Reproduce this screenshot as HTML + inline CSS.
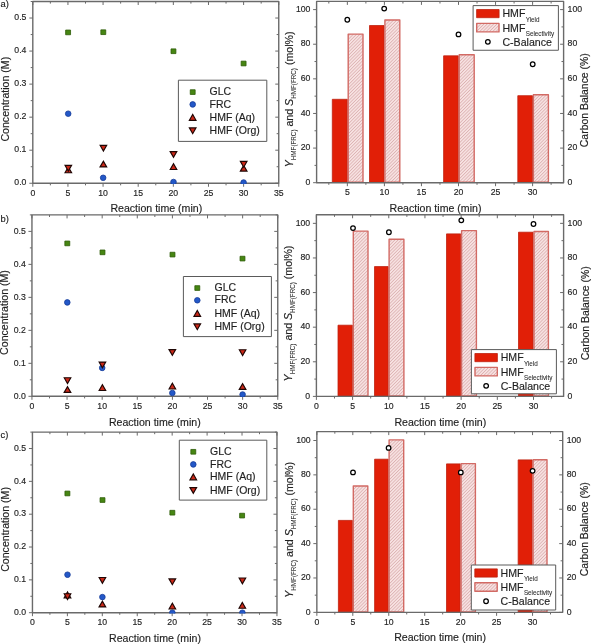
<!DOCTYPE html><html><head><meta charset="utf-8"><style>html,body{margin:0;padding:0;background:#fff;}svg{display:block;filter:blur(0.35px);}</style></head><body>
<svg width="591" height="644" viewBox="0 0 591 644" font-family="'Liberation Sans', sans-serif" stroke-linejoin="round">
<style>text{stroke:#1f1f1f;stroke-width:0.16px;paint-order:stroke;}</style>
<defs><pattern id="hatch" patternUnits="userSpaceOnUse" width="2.3" height="2.3" patternTransform="rotate(45)"><rect width="2.3" height="2.3" fill="#f8e2e2"/><rect width="0.8" height="2.3" fill="#dcb2b2"/></pattern></defs>
<rect width="591" height="644" fill="#fff"/>
<clipPath id="clipL0"><rect x="31.8" y="0.5" width="247.95" height="183.45"/></clipPath>
<line x1="32.8" y1="183.25" x2="32.8" y2="186.75" stroke="#6a6a6a" stroke-width="1.0"/>
<line x1="32.8" y1="1.5" x2="32.8" y2="5" stroke="#6a6a6a" stroke-width="1.0"/>
<text x="32.8" y="195.85" font-size="8.7" text-anchor="middle" fill="#1f1f1f" >0</text>
<line x1="50.37" y1="183.25" x2="50.37" y2="185.35" stroke="#6a6a6a" stroke-width="1.0"/>
<line x1="50.37" y1="1.5" x2="50.37" y2="3.6" stroke="#6a6a6a" stroke-width="1.0"/>
<line x1="67.94" y1="183.25" x2="67.94" y2="186.75" stroke="#6a6a6a" stroke-width="1.0"/>
<line x1="67.94" y1="1.5" x2="67.94" y2="5" stroke="#6a6a6a" stroke-width="1.0"/>
<text x="67.94" y="195.85" font-size="8.7" text-anchor="middle" fill="#1f1f1f" >5</text>
<line x1="85.5" y1="183.25" x2="85.5" y2="185.35" stroke="#6a6a6a" stroke-width="1.0"/>
<line x1="85.5" y1="1.5" x2="85.5" y2="3.6" stroke="#6a6a6a" stroke-width="1.0"/>
<line x1="103.07" y1="183.25" x2="103.07" y2="186.75" stroke="#6a6a6a" stroke-width="1.0"/>
<line x1="103.07" y1="1.5" x2="103.07" y2="5" stroke="#6a6a6a" stroke-width="1.0"/>
<text x="103.07" y="195.85" font-size="8.7" text-anchor="middle" fill="#1f1f1f" >10</text>
<line x1="120.64" y1="183.25" x2="120.64" y2="185.35" stroke="#6a6a6a" stroke-width="1.0"/>
<line x1="120.64" y1="1.5" x2="120.64" y2="3.6" stroke="#6a6a6a" stroke-width="1.0"/>
<line x1="138.2" y1="183.25" x2="138.2" y2="186.75" stroke="#6a6a6a" stroke-width="1.0"/>
<line x1="138.2" y1="1.5" x2="138.2" y2="5" stroke="#6a6a6a" stroke-width="1.0"/>
<text x="138.2" y="195.85" font-size="8.7" text-anchor="middle" fill="#1f1f1f" >15</text>
<line x1="155.77" y1="183.25" x2="155.77" y2="185.35" stroke="#6a6a6a" stroke-width="1.0"/>
<line x1="155.77" y1="1.5" x2="155.77" y2="3.6" stroke="#6a6a6a" stroke-width="1.0"/>
<line x1="173.34" y1="183.25" x2="173.34" y2="186.75" stroke="#6a6a6a" stroke-width="1.0"/>
<line x1="173.34" y1="1.5" x2="173.34" y2="5" stroke="#6a6a6a" stroke-width="1.0"/>
<text x="173.34" y="195.85" font-size="8.7" text-anchor="middle" fill="#1f1f1f" >20</text>
<line x1="190.91" y1="183.25" x2="190.91" y2="185.35" stroke="#6a6a6a" stroke-width="1.0"/>
<line x1="190.91" y1="1.5" x2="190.91" y2="3.6" stroke="#6a6a6a" stroke-width="1.0"/>
<line x1="208.48" y1="183.25" x2="208.48" y2="186.75" stroke="#6a6a6a" stroke-width="1.0"/>
<line x1="208.48" y1="1.5" x2="208.48" y2="5" stroke="#6a6a6a" stroke-width="1.0"/>
<text x="208.48" y="195.85" font-size="8.7" text-anchor="middle" fill="#1f1f1f" >25</text>
<line x1="226.04" y1="183.25" x2="226.04" y2="185.35" stroke="#6a6a6a" stroke-width="1.0"/>
<line x1="226.04" y1="1.5" x2="226.04" y2="3.6" stroke="#6a6a6a" stroke-width="1.0"/>
<line x1="243.61" y1="183.25" x2="243.61" y2="186.75" stroke="#6a6a6a" stroke-width="1.0"/>
<line x1="243.61" y1="1.5" x2="243.61" y2="5" stroke="#6a6a6a" stroke-width="1.0"/>
<text x="243.61" y="195.85" font-size="8.7" text-anchor="middle" fill="#1f1f1f" >30</text>
<line x1="261.18" y1="183.25" x2="261.18" y2="185.35" stroke="#6a6a6a" stroke-width="1.0"/>
<line x1="261.18" y1="1.5" x2="261.18" y2="3.6" stroke="#6a6a6a" stroke-width="1.0"/>
<line x1="278.75" y1="183.25" x2="278.75" y2="186.75" stroke="#6a6a6a" stroke-width="1.0"/>
<line x1="278.75" y1="1.5" x2="278.75" y2="5" stroke="#6a6a6a" stroke-width="1.0"/>
<text x="278.75" y="195.85" font-size="8.7" text-anchor="middle" fill="#1f1f1f" >35</text>
<line x1="29.3" y1="183.25" x2="32.8" y2="183.25" stroke="#6a6a6a" stroke-width="1.0"/>
<line x1="275.25" y1="183.25" x2="278.75" y2="183.25" stroke="#6a6a6a" stroke-width="1.0"/>
<text x="26.4" y="185.45" font-size="8.7" text-anchor="end" fill="#1f1f1f" >0.0</text>
<line x1="30.7" y1="166.73" x2="32.8" y2="166.73" stroke="#6a6a6a" stroke-width="1.0"/>
<line x1="276.65" y1="166.73" x2="278.75" y2="166.73" stroke="#6a6a6a" stroke-width="1.0"/>
<line x1="29.3" y1="150.2" x2="32.8" y2="150.2" stroke="#6a6a6a" stroke-width="1.0"/>
<line x1="275.25" y1="150.2" x2="278.75" y2="150.2" stroke="#6a6a6a" stroke-width="1.0"/>
<text x="26.4" y="152.4" font-size="8.7" text-anchor="end" fill="#1f1f1f" >0.1</text>
<line x1="30.7" y1="133.68" x2="32.8" y2="133.68" stroke="#6a6a6a" stroke-width="1.0"/>
<line x1="276.65" y1="133.68" x2="278.75" y2="133.68" stroke="#6a6a6a" stroke-width="1.0"/>
<line x1="29.3" y1="117.16" x2="32.8" y2="117.16" stroke="#6a6a6a" stroke-width="1.0"/>
<line x1="275.25" y1="117.16" x2="278.75" y2="117.16" stroke="#6a6a6a" stroke-width="1.0"/>
<text x="26.4" y="119.36" font-size="8.7" text-anchor="end" fill="#1f1f1f" >0.2</text>
<line x1="30.7" y1="100.64" x2="32.8" y2="100.64" stroke="#6a6a6a" stroke-width="1.0"/>
<line x1="276.65" y1="100.64" x2="278.75" y2="100.64" stroke="#6a6a6a" stroke-width="1.0"/>
<line x1="29.3" y1="84.11" x2="32.8" y2="84.11" stroke="#6a6a6a" stroke-width="1.0"/>
<line x1="275.25" y1="84.11" x2="278.75" y2="84.11" stroke="#6a6a6a" stroke-width="1.0"/>
<text x="26.4" y="86.31" font-size="8.7" text-anchor="end" fill="#1f1f1f" >0.3</text>
<line x1="30.7" y1="67.59" x2="32.8" y2="67.59" stroke="#6a6a6a" stroke-width="1.0"/>
<line x1="276.65" y1="67.59" x2="278.75" y2="67.59" stroke="#6a6a6a" stroke-width="1.0"/>
<line x1="29.3" y1="51.07" x2="32.8" y2="51.07" stroke="#6a6a6a" stroke-width="1.0"/>
<line x1="275.25" y1="51.07" x2="278.75" y2="51.07" stroke="#6a6a6a" stroke-width="1.0"/>
<text x="26.4" y="53.27" font-size="8.7" text-anchor="end" fill="#1f1f1f" >0.4</text>
<line x1="30.7" y1="34.55" x2="32.8" y2="34.55" stroke="#6a6a6a" stroke-width="1.0"/>
<line x1="276.65" y1="34.55" x2="278.75" y2="34.55" stroke="#6a6a6a" stroke-width="1.0"/>
<line x1="29.3" y1="18.02" x2="32.8" y2="18.02" stroke="#6a6a6a" stroke-width="1.0"/>
<line x1="275.25" y1="18.02" x2="278.75" y2="18.02" stroke="#6a6a6a" stroke-width="1.0"/>
<text x="26.4" y="20.22" font-size="8.7" text-anchor="end" fill="#1f1f1f" >0.5</text>
<line x1="30.7" y1="1.5" x2="32.8" y2="1.5" stroke="#6a6a6a" stroke-width="1.0"/>
<line x1="276.65" y1="1.5" x2="278.75" y2="1.5" stroke="#6a6a6a" stroke-width="1.0"/>
<rect x="32.8" y="1.5" width="245.95" height="181.75" fill="none" stroke="#6a6a6a" stroke-width="1.4"/>
<g clip-path="url(#clipL0)">
<rect x="65.65" y="30.05" width="4.9" height="4.7" fill="#468612" stroke="#2d5c08" stroke-width="0.8"/>
<rect x="100.85" y="29.85" width="4.9" height="4.7" fill="#468612" stroke="#2d5c08" stroke-width="0.8"/>
<rect x="171" y="48.9" width="4.9" height="4.7" fill="#468612" stroke="#2d5c08" stroke-width="0.8"/>
<rect x="241.15" y="61.15" width="4.9" height="4.7" fill="#468612" stroke="#2d5c08" stroke-width="0.8"/>
<circle cx="68.2" cy="113.7" r="2.8" fill="#2358c8" stroke="#183c98" stroke-width="0.8"/>
<circle cx="103.15" cy="177.8" r="2.8" fill="#2358c8" stroke="#183c98" stroke-width="0.8"/>
<circle cx="173.5" cy="182" r="2.8" fill="#2358c8" stroke="#183c98" stroke-width="0.8"/>
<circle cx="243.6" cy="182.5" r="2.8" fill="#2358c8" stroke="#183c98" stroke-width="0.8"/>
<path d="M65,172.7 L68.3,166.9 L71.6,172.7 Z" fill="#cc2818" stroke="#1e0604" stroke-width="1.15" stroke-linejoin="miter"/>
<path d="M100.1,166.9 L103.4,161.1 L106.7,166.9 Z" fill="#cc2818" stroke="#1e0604" stroke-width="1.15" stroke-linejoin="miter"/>
<path d="M170.2,169.5 L173.5,163.7 L176.8,169.5 Z" fill="#cc2818" stroke="#1e0604" stroke-width="1.15" stroke-linejoin="miter"/>
<path d="M240.4,171.1 L243.7,165.3 L247,171.1 Z" fill="#cc2818" stroke="#1e0604" stroke-width="1.15" stroke-linejoin="miter"/>
<path d="M65,165.3 L68.3,171.1 L71.6,165.3 Z" fill="#cc2818" stroke="#1e0604" stroke-width="1.15" stroke-linejoin="miter"/>
<path d="M100.1,145.3 L103.4,151.1 L106.7,145.3 Z" fill="#cc2818" stroke="#1e0604" stroke-width="1.15" stroke-linejoin="miter"/>
<path d="M170.2,151.6 L173.5,157.4 L176.8,151.6 Z" fill="#cc2818" stroke="#1e0604" stroke-width="1.15" stroke-linejoin="miter"/>
<path d="M240.4,161.4 L243.7,167.2 L247,161.4 Z" fill="#cc2818" stroke="#1e0604" stroke-width="1.15" stroke-linejoin="miter"/>
</g>
<rect x="178.4" y="80.2" width="88.4" height="61.2" fill="#fff" stroke="#5a5a5a" stroke-width="1"/>
<rect x="190.25" y="89.75" width="4.9" height="4.7" fill="#468612" stroke="#2d5c08" stroke-width="0.8"/>
<circle cx="192.7" cy="104.4" r="2.8" fill="#2358c8" stroke="#183c98" stroke-width="0.8"/>
<path d="M189.4,120.3 L192.7,114.5 L196,120.3 Z" fill="#cc2818" stroke="#1e0604" stroke-width="1.15" stroke-linejoin="miter"/>
<path d="M189.4,127.9 L192.7,133.7 L196,127.9 Z" fill="#cc2818" stroke="#1e0604" stroke-width="1.15" stroke-linejoin="miter"/>
<text transform="translate(209.6,95.2) scale(1.03,1)" font-size="10.2" fill="#1f1f1f">GLC</text>
<text transform="translate(209.6,107.5) scale(1.03,1)" font-size="10.2" fill="#1f1f1f">FRC</text>
<text transform="translate(209.6,120.5) scale(1.03,1)" font-size="10.2" fill="#1f1f1f">HMF (Aq)</text>
<text transform="translate(209.6,133.9) scale(1.03,1)" font-size="10.2" fill="#1f1f1f">HMF (Org)</text>
<text x="156.3" y="211.6" font-size="10.6" text-anchor="middle" fill="#1f1f1f" >Reaction time (min)</text>
<text transform="translate(8.9,99.2) rotate(-90)" font-size="10.6" text-anchor="middle" fill="#1f1f1f">Concentration (M)</text>
<text x="0.5" y="6.6" font-size="9.4" text-anchor="start" fill="#1f1f1f" >a)</text>
<clipPath id="clipL1"><rect x="30.95" y="213.9" width="247.8" height="183.1"/></clipPath>
<line x1="31.95" y1="396.3" x2="31.95" y2="399.8" stroke="#6a6a6a" stroke-width="1.0"/>
<line x1="31.95" y1="214.9" x2="31.95" y2="218.4" stroke="#6a6a6a" stroke-width="1.0"/>
<text x="31.95" y="408.9" font-size="8.7" text-anchor="middle" fill="#1f1f1f" >0</text>
<line x1="49.51" y1="396.3" x2="49.51" y2="398.4" stroke="#6a6a6a" stroke-width="1.0"/>
<line x1="49.51" y1="214.9" x2="49.51" y2="217" stroke="#6a6a6a" stroke-width="1.0"/>
<line x1="67.06" y1="396.3" x2="67.06" y2="399.8" stroke="#6a6a6a" stroke-width="1.0"/>
<line x1="67.06" y1="214.9" x2="67.06" y2="218.4" stroke="#6a6a6a" stroke-width="1.0"/>
<text x="67.06" y="408.9" font-size="8.7" text-anchor="middle" fill="#1f1f1f" >5</text>
<line x1="84.62" y1="396.3" x2="84.62" y2="398.4" stroke="#6a6a6a" stroke-width="1.0"/>
<line x1="84.62" y1="214.9" x2="84.62" y2="217" stroke="#6a6a6a" stroke-width="1.0"/>
<line x1="102.18" y1="396.3" x2="102.18" y2="399.8" stroke="#6a6a6a" stroke-width="1.0"/>
<line x1="102.18" y1="214.9" x2="102.18" y2="218.4" stroke="#6a6a6a" stroke-width="1.0"/>
<text x="102.18" y="408.9" font-size="8.7" text-anchor="middle" fill="#1f1f1f" >10</text>
<line x1="119.74" y1="396.3" x2="119.74" y2="398.4" stroke="#6a6a6a" stroke-width="1.0"/>
<line x1="119.74" y1="214.9" x2="119.74" y2="217" stroke="#6a6a6a" stroke-width="1.0"/>
<line x1="137.29" y1="396.3" x2="137.29" y2="399.8" stroke="#6a6a6a" stroke-width="1.0"/>
<line x1="137.29" y1="214.9" x2="137.29" y2="218.4" stroke="#6a6a6a" stroke-width="1.0"/>
<text x="137.29" y="408.9" font-size="8.7" text-anchor="middle" fill="#1f1f1f" >15</text>
<line x1="154.85" y1="396.3" x2="154.85" y2="398.4" stroke="#6a6a6a" stroke-width="1.0"/>
<line x1="154.85" y1="214.9" x2="154.85" y2="217" stroke="#6a6a6a" stroke-width="1.0"/>
<line x1="172.41" y1="396.3" x2="172.41" y2="399.8" stroke="#6a6a6a" stroke-width="1.0"/>
<line x1="172.41" y1="214.9" x2="172.41" y2="218.4" stroke="#6a6a6a" stroke-width="1.0"/>
<text x="172.41" y="408.9" font-size="8.7" text-anchor="middle" fill="#1f1f1f" >20</text>
<line x1="189.97" y1="396.3" x2="189.97" y2="398.4" stroke="#6a6a6a" stroke-width="1.0"/>
<line x1="189.97" y1="214.9" x2="189.97" y2="217" stroke="#6a6a6a" stroke-width="1.0"/>
<line x1="207.52" y1="396.3" x2="207.52" y2="399.8" stroke="#6a6a6a" stroke-width="1.0"/>
<line x1="207.52" y1="214.9" x2="207.52" y2="218.4" stroke="#6a6a6a" stroke-width="1.0"/>
<text x="207.52" y="408.9" font-size="8.7" text-anchor="middle" fill="#1f1f1f" >25</text>
<line x1="225.08" y1="396.3" x2="225.08" y2="398.4" stroke="#6a6a6a" stroke-width="1.0"/>
<line x1="225.08" y1="214.9" x2="225.08" y2="217" stroke="#6a6a6a" stroke-width="1.0"/>
<line x1="242.64" y1="396.3" x2="242.64" y2="399.8" stroke="#6a6a6a" stroke-width="1.0"/>
<line x1="242.64" y1="214.9" x2="242.64" y2="218.4" stroke="#6a6a6a" stroke-width="1.0"/>
<text x="242.64" y="408.9" font-size="8.7" text-anchor="middle" fill="#1f1f1f" >30</text>
<line x1="260.2" y1="396.3" x2="260.2" y2="398.4" stroke="#6a6a6a" stroke-width="1.0"/>
<line x1="260.2" y1="214.9" x2="260.2" y2="217" stroke="#6a6a6a" stroke-width="1.0"/>
<line x1="277.75" y1="396.3" x2="277.75" y2="399.8" stroke="#6a6a6a" stroke-width="1.0"/>
<line x1="277.75" y1="214.9" x2="277.75" y2="218.4" stroke="#6a6a6a" stroke-width="1.0"/>
<text x="277.75" y="408.9" font-size="8.7" text-anchor="middle" fill="#1f1f1f" >35</text>
<line x1="28.45" y1="396.3" x2="31.95" y2="396.3" stroke="#6a6a6a" stroke-width="1.0"/>
<line x1="274.25" y1="396.3" x2="277.75" y2="396.3" stroke="#6a6a6a" stroke-width="1.0"/>
<text x="25.8" y="398.5" font-size="8.7" text-anchor="end" fill="#1f1f1f" >0.0</text>
<line x1="29.85" y1="379.81" x2="31.95" y2="379.81" stroke="#6a6a6a" stroke-width="1.0"/>
<line x1="275.65" y1="379.81" x2="277.75" y2="379.81" stroke="#6a6a6a" stroke-width="1.0"/>
<line x1="28.45" y1="363.32" x2="31.95" y2="363.32" stroke="#6a6a6a" stroke-width="1.0"/>
<line x1="274.25" y1="363.32" x2="277.75" y2="363.32" stroke="#6a6a6a" stroke-width="1.0"/>
<text x="25.8" y="365.52" font-size="8.7" text-anchor="end" fill="#1f1f1f" >0.1</text>
<line x1="29.85" y1="346.83" x2="31.95" y2="346.83" stroke="#6a6a6a" stroke-width="1.0"/>
<line x1="275.65" y1="346.83" x2="277.75" y2="346.83" stroke="#6a6a6a" stroke-width="1.0"/>
<line x1="28.45" y1="330.34" x2="31.95" y2="330.34" stroke="#6a6a6a" stroke-width="1.0"/>
<line x1="274.25" y1="330.34" x2="277.75" y2="330.34" stroke="#6a6a6a" stroke-width="1.0"/>
<text x="25.8" y="332.54" font-size="8.7" text-anchor="end" fill="#1f1f1f" >0.2</text>
<line x1="29.85" y1="313.85" x2="31.95" y2="313.85" stroke="#6a6a6a" stroke-width="1.0"/>
<line x1="275.65" y1="313.85" x2="277.75" y2="313.85" stroke="#6a6a6a" stroke-width="1.0"/>
<line x1="28.45" y1="297.35" x2="31.95" y2="297.35" stroke="#6a6a6a" stroke-width="1.0"/>
<line x1="274.25" y1="297.35" x2="277.75" y2="297.35" stroke="#6a6a6a" stroke-width="1.0"/>
<text x="25.8" y="299.55" font-size="8.7" text-anchor="end" fill="#1f1f1f" >0.3</text>
<line x1="29.85" y1="280.86" x2="31.95" y2="280.86" stroke="#6a6a6a" stroke-width="1.0"/>
<line x1="275.65" y1="280.86" x2="277.75" y2="280.86" stroke="#6a6a6a" stroke-width="1.0"/>
<line x1="28.45" y1="264.37" x2="31.95" y2="264.37" stroke="#6a6a6a" stroke-width="1.0"/>
<line x1="274.25" y1="264.37" x2="277.75" y2="264.37" stroke="#6a6a6a" stroke-width="1.0"/>
<text x="25.8" y="266.57" font-size="8.7" text-anchor="end" fill="#1f1f1f" >0.4</text>
<line x1="29.85" y1="247.88" x2="31.95" y2="247.88" stroke="#6a6a6a" stroke-width="1.0"/>
<line x1="275.65" y1="247.88" x2="277.75" y2="247.88" stroke="#6a6a6a" stroke-width="1.0"/>
<line x1="28.45" y1="231.39" x2="31.95" y2="231.39" stroke="#6a6a6a" stroke-width="1.0"/>
<line x1="274.25" y1="231.39" x2="277.75" y2="231.39" stroke="#6a6a6a" stroke-width="1.0"/>
<text x="25.8" y="233.59" font-size="8.7" text-anchor="end" fill="#1f1f1f" >0.5</text>
<line x1="29.85" y1="214.9" x2="31.95" y2="214.9" stroke="#6a6a6a" stroke-width="1.0"/>
<line x1="275.65" y1="214.9" x2="277.75" y2="214.9" stroke="#6a6a6a" stroke-width="1.0"/>
<rect x="31.95" y="214.9" width="245.8" height="181.4" fill="none" stroke="#6a6a6a" stroke-width="1.4"/>
<g clip-path="url(#clipL1)">
<rect x="64.85" y="241.05" width="4.9" height="4.7" fill="#468612" stroke="#2d5c08" stroke-width="0.8"/>
<rect x="100.05" y="250" width="4.9" height="4.7" fill="#468612" stroke="#2d5c08" stroke-width="0.8"/>
<rect x="170.05" y="252.25" width="4.9" height="4.7" fill="#468612" stroke="#2d5c08" stroke-width="0.8"/>
<rect x="240.05" y="256.25" width="4.9" height="4.7" fill="#468612" stroke="#2d5c08" stroke-width="0.8"/>
<circle cx="67.3" cy="302.4" r="2.8" fill="#2358c8" stroke="#183c98" stroke-width="0.8"/>
<circle cx="102.2" cy="367.9" r="2.8" fill="#2358c8" stroke="#183c98" stroke-width="0.8"/>
<circle cx="172.35" cy="393" r="2.8" fill="#2358c8" stroke="#183c98" stroke-width="0.8"/>
<circle cx="242.6" cy="394.5" r="2.8" fill="#2358c8" stroke="#183c98" stroke-width="0.8"/>
<path d="M64.2,392.4 L67.5,386.6 L70.8,392.4 Z" fill="#cc2818" stroke="#1e0604" stroke-width="1.15" stroke-linejoin="miter"/>
<path d="M99.1,390.45 L102.4,384.65 L105.7,390.45 Z" fill="#cc2818" stroke="#1e0604" stroke-width="1.15" stroke-linejoin="miter"/>
<path d="M169.05,389 L172.35,383.2 L175.65,389 Z" fill="#cc2818" stroke="#1e0604" stroke-width="1.15" stroke-linejoin="miter"/>
<path d="M239.3,389.4 L242.6,383.6 L245.9,389.4 Z" fill="#cc2818" stroke="#1e0604" stroke-width="1.15" stroke-linejoin="miter"/>
<path d="M64.2,377.75 L67.5,383.55 L70.8,377.75 Z" fill="#cc2818" stroke="#1e0604" stroke-width="1.15" stroke-linejoin="miter"/>
<path d="M99.1,362.05 L102.4,367.85 L105.7,362.05 Z" fill="#cc2818" stroke="#1e0604" stroke-width="1.15" stroke-linejoin="miter"/>
<path d="M169.05,349.6 L172.35,355.4 L175.65,349.6 Z" fill="#cc2818" stroke="#1e0604" stroke-width="1.15" stroke-linejoin="miter"/>
<path d="M239.3,349.7 L242.6,355.5 L245.9,349.7 Z" fill="#cc2818" stroke="#1e0604" stroke-width="1.15" stroke-linejoin="miter"/>
</g>
<rect x="183.4" y="276.5" width="88" height="60.1" fill="#fff" stroke="#5a5a5a" stroke-width="1"/>
<rect x="194.85" y="285.7" width="4.9" height="4.7" fill="#468612" stroke="#2d5c08" stroke-width="0.8"/>
<circle cx="197.3" cy="300.3" r="2.8" fill="#2358c8" stroke="#183c98" stroke-width="0.8"/>
<path d="M194,316.3 L197.3,310.5 L200.6,316.3 Z" fill="#cc2818" stroke="#1e0604" stroke-width="1.15" stroke-linejoin="miter"/>
<path d="M194,323.9 L197.3,329.7 L200.6,323.9 Z" fill="#cc2818" stroke="#1e0604" stroke-width="1.15" stroke-linejoin="miter"/>
<text transform="translate(214.5,291.15) scale(1.03,1)" font-size="10.2" fill="#1f1f1f">GLC</text>
<text transform="translate(214.5,303.4) scale(1.03,1)" font-size="10.2" fill="#1f1f1f">FRC</text>
<text transform="translate(214.5,316.5) scale(1.03,1)" font-size="10.2" fill="#1f1f1f">HMF (Aq)</text>
<text transform="translate(214.5,329.9) scale(1.03,1)" font-size="10.2" fill="#1f1f1f">HMF (Org)</text>
<text x="154.8" y="425.8" font-size="10.6" text-anchor="middle" fill="#1f1f1f" >Reaction time (min)</text>
<text transform="translate(7.9,312.5) rotate(-90)" font-size="10.6" text-anchor="middle" fill="#1f1f1f">Concentration (M)</text>
<text x="0.5" y="221.7" font-size="9.4" text-anchor="start" fill="#1f1f1f" >b)</text>
<clipPath id="clipL2"><rect x="31.45" y="431.1" width="246.52" height="182.3"/></clipPath>
<line x1="32.45" y1="612.7" x2="32.45" y2="616.2" stroke="#6a6a6a" stroke-width="1.0"/>
<line x1="32.45" y1="432.1" x2="32.45" y2="435.6" stroke="#6a6a6a" stroke-width="1.0"/>
<text x="32.45" y="625.3" font-size="8.7" text-anchor="middle" fill="#1f1f1f" >0</text>
<line x1="49.92" y1="612.7" x2="49.92" y2="614.8" stroke="#6a6a6a" stroke-width="1.0"/>
<line x1="49.92" y1="432.1" x2="49.92" y2="434.2" stroke="#6a6a6a" stroke-width="1.0"/>
<line x1="67.38" y1="612.7" x2="67.38" y2="616.2" stroke="#6a6a6a" stroke-width="1.0"/>
<line x1="67.38" y1="432.1" x2="67.38" y2="435.6" stroke="#6a6a6a" stroke-width="1.0"/>
<text x="67.38" y="625.3" font-size="8.7" text-anchor="middle" fill="#1f1f1f" >5</text>
<line x1="84.84" y1="612.7" x2="84.84" y2="614.8" stroke="#6a6a6a" stroke-width="1.0"/>
<line x1="84.84" y1="432.1" x2="84.84" y2="434.2" stroke="#6a6a6a" stroke-width="1.0"/>
<line x1="102.31" y1="612.7" x2="102.31" y2="616.2" stroke="#6a6a6a" stroke-width="1.0"/>
<line x1="102.31" y1="432.1" x2="102.31" y2="435.6" stroke="#6a6a6a" stroke-width="1.0"/>
<text x="102.31" y="625.3" font-size="8.7" text-anchor="middle" fill="#1f1f1f" >10</text>
<line x1="119.78" y1="612.7" x2="119.78" y2="614.8" stroke="#6a6a6a" stroke-width="1.0"/>
<line x1="119.78" y1="432.1" x2="119.78" y2="434.2" stroke="#6a6a6a" stroke-width="1.0"/>
<line x1="137.24" y1="612.7" x2="137.24" y2="616.2" stroke="#6a6a6a" stroke-width="1.0"/>
<line x1="137.24" y1="432.1" x2="137.24" y2="435.6" stroke="#6a6a6a" stroke-width="1.0"/>
<text x="137.24" y="625.3" font-size="8.7" text-anchor="middle" fill="#1f1f1f" >15</text>
<line x1="154.7" y1="612.7" x2="154.7" y2="614.8" stroke="#6a6a6a" stroke-width="1.0"/>
<line x1="154.7" y1="432.1" x2="154.7" y2="434.2" stroke="#6a6a6a" stroke-width="1.0"/>
<line x1="172.17" y1="612.7" x2="172.17" y2="616.2" stroke="#6a6a6a" stroke-width="1.0"/>
<line x1="172.17" y1="432.1" x2="172.17" y2="435.6" stroke="#6a6a6a" stroke-width="1.0"/>
<text x="172.17" y="625.3" font-size="8.7" text-anchor="middle" fill="#1f1f1f" >20</text>
<line x1="189.63" y1="612.7" x2="189.63" y2="614.8" stroke="#6a6a6a" stroke-width="1.0"/>
<line x1="189.63" y1="432.1" x2="189.63" y2="434.2" stroke="#6a6a6a" stroke-width="1.0"/>
<line x1="207.1" y1="612.7" x2="207.1" y2="616.2" stroke="#6a6a6a" stroke-width="1.0"/>
<line x1="207.1" y1="432.1" x2="207.1" y2="435.6" stroke="#6a6a6a" stroke-width="1.0"/>
<text x="207.1" y="625.3" font-size="8.7" text-anchor="middle" fill="#1f1f1f" >25</text>
<line x1="224.56" y1="612.7" x2="224.56" y2="614.8" stroke="#6a6a6a" stroke-width="1.0"/>
<line x1="224.56" y1="432.1" x2="224.56" y2="434.2" stroke="#6a6a6a" stroke-width="1.0"/>
<line x1="242.03" y1="612.7" x2="242.03" y2="616.2" stroke="#6a6a6a" stroke-width="1.0"/>
<line x1="242.03" y1="432.1" x2="242.03" y2="435.6" stroke="#6a6a6a" stroke-width="1.0"/>
<text x="242.03" y="625.3" font-size="8.7" text-anchor="middle" fill="#1f1f1f" >30</text>
<line x1="259.5" y1="612.7" x2="259.5" y2="614.8" stroke="#6a6a6a" stroke-width="1.0"/>
<line x1="259.5" y1="432.1" x2="259.5" y2="434.2" stroke="#6a6a6a" stroke-width="1.0"/>
<line x1="276.96" y1="612.7" x2="276.96" y2="616.2" stroke="#6a6a6a" stroke-width="1.0"/>
<line x1="276.96" y1="432.1" x2="276.96" y2="435.6" stroke="#6a6a6a" stroke-width="1.0"/>
<text x="276.96" y="625.3" font-size="8.7" text-anchor="middle" fill="#1f1f1f" >35</text>
<line x1="28.95" y1="612.7" x2="32.45" y2="612.7" stroke="#6a6a6a" stroke-width="1.0"/>
<line x1="273.47" y1="612.7" x2="276.97" y2="612.7" stroke="#6a6a6a" stroke-width="1.0"/>
<text x="26.1" y="614.9" font-size="8.7" text-anchor="end" fill="#1f1f1f" >0.0</text>
<line x1="30.35" y1="596.28" x2="32.45" y2="596.28" stroke="#6a6a6a" stroke-width="1.0"/>
<line x1="274.87" y1="596.28" x2="276.97" y2="596.28" stroke="#6a6a6a" stroke-width="1.0"/>
<line x1="28.95" y1="579.86" x2="32.45" y2="579.86" stroke="#6a6a6a" stroke-width="1.0"/>
<line x1="273.47" y1="579.86" x2="276.97" y2="579.86" stroke="#6a6a6a" stroke-width="1.0"/>
<text x="26.1" y="582.06" font-size="8.7" text-anchor="end" fill="#1f1f1f" >0.1</text>
<line x1="30.35" y1="563.45" x2="32.45" y2="563.45" stroke="#6a6a6a" stroke-width="1.0"/>
<line x1="274.87" y1="563.45" x2="276.97" y2="563.45" stroke="#6a6a6a" stroke-width="1.0"/>
<line x1="28.95" y1="547.03" x2="32.45" y2="547.03" stroke="#6a6a6a" stroke-width="1.0"/>
<line x1="273.47" y1="547.03" x2="276.97" y2="547.03" stroke="#6a6a6a" stroke-width="1.0"/>
<text x="26.1" y="549.23" font-size="8.7" text-anchor="end" fill="#1f1f1f" >0.2</text>
<line x1="30.35" y1="530.61" x2="32.45" y2="530.61" stroke="#6a6a6a" stroke-width="1.0"/>
<line x1="274.87" y1="530.61" x2="276.97" y2="530.61" stroke="#6a6a6a" stroke-width="1.0"/>
<line x1="28.95" y1="514.19" x2="32.45" y2="514.19" stroke="#6a6a6a" stroke-width="1.0"/>
<line x1="273.47" y1="514.19" x2="276.97" y2="514.19" stroke="#6a6a6a" stroke-width="1.0"/>
<text x="26.1" y="516.39" font-size="8.7" text-anchor="end" fill="#1f1f1f" >0.3</text>
<line x1="30.35" y1="497.77" x2="32.45" y2="497.77" stroke="#6a6a6a" stroke-width="1.0"/>
<line x1="274.87" y1="497.77" x2="276.97" y2="497.77" stroke="#6a6a6a" stroke-width="1.0"/>
<line x1="28.95" y1="481.35" x2="32.45" y2="481.35" stroke="#6a6a6a" stroke-width="1.0"/>
<line x1="273.47" y1="481.35" x2="276.97" y2="481.35" stroke="#6a6a6a" stroke-width="1.0"/>
<text x="26.1" y="483.55" font-size="8.7" text-anchor="end" fill="#1f1f1f" >0.4</text>
<line x1="30.35" y1="464.94" x2="32.45" y2="464.94" stroke="#6a6a6a" stroke-width="1.0"/>
<line x1="274.87" y1="464.94" x2="276.97" y2="464.94" stroke="#6a6a6a" stroke-width="1.0"/>
<line x1="28.95" y1="448.52" x2="32.45" y2="448.52" stroke="#6a6a6a" stroke-width="1.0"/>
<line x1="273.47" y1="448.52" x2="276.97" y2="448.52" stroke="#6a6a6a" stroke-width="1.0"/>
<text x="26.1" y="450.72" font-size="8.7" text-anchor="end" fill="#1f1f1f" >0.5</text>
<line x1="30.35" y1="432.1" x2="32.45" y2="432.1" stroke="#6a6a6a" stroke-width="1.0"/>
<line x1="274.87" y1="432.1" x2="276.97" y2="432.1" stroke="#6a6a6a" stroke-width="1.0"/>
<rect x="32.45" y="432.1" width="244.52" height="180.6" fill="none" stroke="#6a6a6a" stroke-width="1.4"/>
<g clip-path="url(#clipL2)">
<rect x="64.95" y="491.1" width="4.9" height="4.7" fill="#468612" stroke="#2d5c08" stroke-width="0.8"/>
<rect x="100.05" y="497.7" width="4.9" height="4.7" fill="#468612" stroke="#2d5c08" stroke-width="0.8"/>
<rect x="169.9" y="510.35" width="4.9" height="4.7" fill="#468612" stroke="#2d5c08" stroke-width="0.8"/>
<rect x="239.65" y="513.25" width="4.9" height="4.7" fill="#468612" stroke="#2d5c08" stroke-width="0.8"/>
<circle cx="67.5" cy="574.7" r="2.8" fill="#2358c8" stroke="#183c98" stroke-width="0.8"/>
<circle cx="102.4" cy="597.1" r="2.8" fill="#2358c8" stroke="#183c98" stroke-width="0.8"/>
<circle cx="172.35" cy="612.7" r="2.8" fill="#2358c8" stroke="#183c98" stroke-width="0.8"/>
<circle cx="242.4" cy="612.7" r="2.8" fill="#2358c8" stroke="#183c98" stroke-width="0.8"/>
<path d="M64.2,597.8 L67.5,592 L70.8,597.8 Z" fill="#cc2818" stroke="#1e0604" stroke-width="1.15" stroke-linejoin="miter"/>
<path d="M99.1,606.9 L102.4,601.1 L105.7,606.9 Z" fill="#cc2818" stroke="#1e0604" stroke-width="1.15" stroke-linejoin="miter"/>
<path d="M169.05,609 L172.35,603.2 L175.65,609 Z" fill="#cc2818" stroke="#1e0604" stroke-width="1.15" stroke-linejoin="miter"/>
<path d="M239,608.25 L242.3,602.45 L245.6,608.25 Z" fill="#cc2818" stroke="#1e0604" stroke-width="1.15" stroke-linejoin="miter"/>
<path d="M64.2,593.7 L67.5,599.5 L70.8,593.7 Z" fill="#cc2818" stroke="#1e0604" stroke-width="1.15" stroke-linejoin="miter"/>
<path d="M99.1,577.5 L102.4,583.3 L105.7,577.5 Z" fill="#cc2818" stroke="#1e0604" stroke-width="1.15" stroke-linejoin="miter"/>
<path d="M169.05,578.9 L172.35,584.7 L175.65,578.9 Z" fill="#cc2818" stroke="#1e0604" stroke-width="1.15" stroke-linejoin="miter"/>
<path d="M239.1,578 L242.4,583.8 L245.7,578 Z" fill="#cc2818" stroke="#1e0604" stroke-width="1.15" stroke-linejoin="miter"/>
</g>
<rect x="179.3" y="440.2" width="87.5" height="59.9" fill="#fff" stroke="#5a5a5a" stroke-width="1"/>
<rect x="190.85" y="449.45" width="4.9" height="4.7" fill="#468612" stroke="#2d5c08" stroke-width="0.8"/>
<circle cx="193.3" cy="464.4" r="2.8" fill="#2358c8" stroke="#183c98" stroke-width="0.8"/>
<path d="M190,479.8 L193.3,474 L196.6,479.8 Z" fill="#cc2818" stroke="#1e0604" stroke-width="1.15" stroke-linejoin="miter"/>
<path d="M190,487.6 L193.3,493.4 L196.6,487.6 Z" fill="#cc2818" stroke="#1e0604" stroke-width="1.15" stroke-linejoin="miter"/>
<text transform="translate(210,454.9) scale(1.03,1)" font-size="10.2" fill="#1f1f1f">GLC</text>
<text transform="translate(210,467.5) scale(1.03,1)" font-size="10.2" fill="#1f1f1f">FRC</text>
<text transform="translate(210,480) scale(1.03,1)" font-size="10.2" fill="#1f1f1f">HMF (Aq)</text>
<text transform="translate(210,493.6) scale(1.03,1)" font-size="10.2" fill="#1f1f1f">HMF (Org)</text>
<text x="155" y="641.6" font-size="10.6" text-anchor="middle" fill="#1f1f1f" >Reaction time (min)</text>
<text transform="translate(8.9,529.45) rotate(-90)" font-size="10.6" text-anchor="middle" fill="#1f1f1f">Concentration (M)</text>
<text x="0.5" y="437.8" font-size="9.4" text-anchor="start" fill="#1f1f1f" >c)</text>
<line x1="328.82" y1="182.7" x2="328.82" y2="184.8" stroke="#6a6a6a" stroke-width="1.0"/>
<line x1="328.82" y1="1.4" x2="328.82" y2="3.5" stroke="#6a6a6a" stroke-width="1.0"/>
<line x1="347.35" y1="182.7" x2="347.35" y2="186.2" stroke="#6a6a6a" stroke-width="1.0"/>
<line x1="347.35" y1="1.4" x2="347.35" y2="4.9" stroke="#6a6a6a" stroke-width="1.0"/>
<text x="347.35" y="195.3" font-size="8.7" text-anchor="middle" fill="#1f1f1f" >5</text>
<line x1="365.88" y1="182.7" x2="365.88" y2="184.8" stroke="#6a6a6a" stroke-width="1.0"/>
<line x1="365.88" y1="1.4" x2="365.88" y2="3.5" stroke="#6a6a6a" stroke-width="1.0"/>
<line x1="384.4" y1="182.7" x2="384.4" y2="186.2" stroke="#6a6a6a" stroke-width="1.0"/>
<line x1="384.4" y1="1.4" x2="384.4" y2="4.9" stroke="#6a6a6a" stroke-width="1.0"/>
<text x="384.4" y="195.3" font-size="8.7" text-anchor="middle" fill="#1f1f1f" >10</text>
<line x1="402.93" y1="182.7" x2="402.93" y2="184.8" stroke="#6a6a6a" stroke-width="1.0"/>
<line x1="402.93" y1="1.4" x2="402.93" y2="3.5" stroke="#6a6a6a" stroke-width="1.0"/>
<line x1="421.45" y1="182.7" x2="421.45" y2="186.2" stroke="#6a6a6a" stroke-width="1.0"/>
<line x1="421.45" y1="1.4" x2="421.45" y2="4.9" stroke="#6a6a6a" stroke-width="1.0"/>
<text x="421.45" y="195.3" font-size="8.7" text-anchor="middle" fill="#1f1f1f" >15</text>
<line x1="439.98" y1="182.7" x2="439.98" y2="184.8" stroke="#6a6a6a" stroke-width="1.0"/>
<line x1="439.98" y1="1.4" x2="439.98" y2="3.5" stroke="#6a6a6a" stroke-width="1.0"/>
<line x1="458.5" y1="182.7" x2="458.5" y2="186.2" stroke="#6a6a6a" stroke-width="1.0"/>
<line x1="458.5" y1="1.4" x2="458.5" y2="4.9" stroke="#6a6a6a" stroke-width="1.0"/>
<text x="458.5" y="195.3" font-size="8.7" text-anchor="middle" fill="#1f1f1f" >20</text>
<line x1="477.02" y1="182.7" x2="477.02" y2="184.8" stroke="#6a6a6a" stroke-width="1.0"/>
<line x1="477.02" y1="1.4" x2="477.02" y2="3.5" stroke="#6a6a6a" stroke-width="1.0"/>
<line x1="495.55" y1="182.7" x2="495.55" y2="186.2" stroke="#6a6a6a" stroke-width="1.0"/>
<line x1="495.55" y1="1.4" x2="495.55" y2="4.9" stroke="#6a6a6a" stroke-width="1.0"/>
<text x="495.55" y="195.3" font-size="8.7" text-anchor="middle" fill="#1f1f1f" >25</text>
<line x1="514.08" y1="182.7" x2="514.08" y2="184.8" stroke="#6a6a6a" stroke-width="1.0"/>
<line x1="514.08" y1="1.4" x2="514.08" y2="3.5" stroke="#6a6a6a" stroke-width="1.0"/>
<line x1="532.6" y1="182.7" x2="532.6" y2="186.2" stroke="#6a6a6a" stroke-width="1.0"/>
<line x1="532.6" y1="1.4" x2="532.6" y2="4.9" stroke="#6a6a6a" stroke-width="1.0"/>
<text x="532.6" y="195.3" font-size="8.7" text-anchor="middle" fill="#1f1f1f" >30</text>
<line x1="551.12" y1="182.7" x2="551.12" y2="184.8" stroke="#6a6a6a" stroke-width="1.0"/>
<line x1="551.12" y1="1.4" x2="551.12" y2="3.5" stroke="#6a6a6a" stroke-width="1.0"/>
<line x1="313.1" y1="182.7" x2="316.6" y2="182.7" stroke="#6a6a6a" stroke-width="1.0"/>
<line x1="560.1" y1="182.7" x2="563.6" y2="182.7" stroke="#6a6a6a" stroke-width="1.0"/>
<text x="310.4" y="184.9" font-size="8.7" text-anchor="end" fill="#1f1f1f" >0</text>
<text x="567.6" y="184.9" font-size="8.7" text-anchor="start" fill="#1f1f1f" >0</text>
<line x1="314.5" y1="165.39" x2="316.6" y2="165.39" stroke="#6a6a6a" stroke-width="1.0"/>
<line x1="561.5" y1="165.39" x2="563.6" y2="165.39" stroke="#6a6a6a" stroke-width="1.0"/>
<line x1="313.1" y1="148.08" x2="316.6" y2="148.08" stroke="#6a6a6a" stroke-width="1.0"/>
<line x1="560.1" y1="148.08" x2="563.6" y2="148.08" stroke="#6a6a6a" stroke-width="1.0"/>
<text x="310.4" y="150.28" font-size="8.7" text-anchor="end" fill="#1f1f1f" >20</text>
<text x="567.6" y="150.28" font-size="8.7" text-anchor="start" fill="#1f1f1f" >20</text>
<line x1="314.5" y1="130.77" x2="316.6" y2="130.77" stroke="#6a6a6a" stroke-width="1.0"/>
<line x1="561.5" y1="130.77" x2="563.6" y2="130.77" stroke="#6a6a6a" stroke-width="1.0"/>
<line x1="313.1" y1="113.46" x2="316.6" y2="113.46" stroke="#6a6a6a" stroke-width="1.0"/>
<line x1="560.1" y1="113.46" x2="563.6" y2="113.46" stroke="#6a6a6a" stroke-width="1.0"/>
<text x="310.4" y="115.66" font-size="8.7" text-anchor="end" fill="#1f1f1f" >40</text>
<text x="567.6" y="115.66" font-size="8.7" text-anchor="start" fill="#1f1f1f" >40</text>
<line x1="314.5" y1="96.15" x2="316.6" y2="96.15" stroke="#6a6a6a" stroke-width="1.0"/>
<line x1="561.5" y1="96.15" x2="563.6" y2="96.15" stroke="#6a6a6a" stroke-width="1.0"/>
<line x1="313.1" y1="78.84" x2="316.6" y2="78.84" stroke="#6a6a6a" stroke-width="1.0"/>
<line x1="560.1" y1="78.84" x2="563.6" y2="78.84" stroke="#6a6a6a" stroke-width="1.0"/>
<text x="310.4" y="81.04" font-size="8.7" text-anchor="end" fill="#1f1f1f" >60</text>
<text x="567.6" y="81.04" font-size="8.7" text-anchor="start" fill="#1f1f1f" >60</text>
<line x1="314.5" y1="61.53" x2="316.6" y2="61.53" stroke="#6a6a6a" stroke-width="1.0"/>
<line x1="561.5" y1="61.53" x2="563.6" y2="61.53" stroke="#6a6a6a" stroke-width="1.0"/>
<line x1="313.1" y1="44.22" x2="316.6" y2="44.22" stroke="#6a6a6a" stroke-width="1.0"/>
<line x1="560.1" y1="44.22" x2="563.6" y2="44.22" stroke="#6a6a6a" stroke-width="1.0"/>
<text x="310.4" y="46.42" font-size="8.7" text-anchor="end" fill="#1f1f1f" >80</text>
<text x="567.6" y="46.42" font-size="8.7" text-anchor="start" fill="#1f1f1f" >80</text>
<line x1="314.5" y1="26.91" x2="316.6" y2="26.91" stroke="#6a6a6a" stroke-width="1.0"/>
<line x1="561.5" y1="26.91" x2="563.6" y2="26.91" stroke="#6a6a6a" stroke-width="1.0"/>
<line x1="313.1" y1="9.6" x2="316.6" y2="9.6" stroke="#6a6a6a" stroke-width="1.0"/>
<line x1="560.1" y1="9.6" x2="563.6" y2="9.6" stroke="#6a6a6a" stroke-width="1.0"/>
<text x="310.4" y="11.8" font-size="8.7" text-anchor="end" fill="#1f1f1f" >100</text>
<text x="567.6" y="11.8" font-size="8.7" text-anchor="start" fill="#1f1f1f" >100</text>
<rect x="332.3" y="99.3" width="15" height="83" fill="#e11f07" stroke="#bf2210" stroke-width="0.8"/>
<rect x="348.2" y="34.1" width="14.8" height="148.1" fill="url(#hatch)" stroke="#d26a64" stroke-width="1.4"/>
<rect x="369.5" y="25.5" width="14.5" height="156.8" fill="#e11f07" stroke="#bf2210" stroke-width="0.8"/>
<rect x="384.9" y="20" width="14.9" height="162.2" fill="url(#hatch)" stroke="#d26a64" stroke-width="1.4"/>
<rect x="443.6" y="55.8" width="14.7" height="126.5" fill="#e11f07" stroke="#bf2210" stroke-width="0.8"/>
<rect x="459.2" y="54.7" width="15" height="127.5" fill="url(#hatch)" stroke="#d26a64" stroke-width="1.4"/>
<rect x="517.8" y="95.7" width="14.7" height="86.6" fill="#e11f07" stroke="#bf2210" stroke-width="0.8"/>
<rect x="533.4" y="94.8" width="15" height="87.4" fill="url(#hatch)" stroke="#d26a64" stroke-width="1.4"/>
<circle cx="347.3" cy="19.7" r="2.3" fill="#fff" stroke="#000" stroke-width="1.25"/>
<circle cx="384.2" cy="8.6" r="2.3" fill="#fff" stroke="#000" stroke-width="1.25"/>
<circle cx="458.5" cy="34.4" r="2.3" fill="#fff" stroke="#000" stroke-width="1.25"/>
<circle cx="532.7" cy="64.25" r="2.3" fill="#fff" stroke="#000" stroke-width="1.25"/>
<rect x="316.6" y="1.4" width="247" height="181.3" fill="none" stroke="#6a6a6a" stroke-width="1.4"/>
<rect x="473.1" y="5.6" width="85.3" height="44.65" fill="#fff" stroke="#5a5a5a" stroke-width="1"/>
<rect x="476.6" y="9.5" width="22.5" height="8.2" fill="#e11f07" stroke="#bf2210" stroke-width="0.8"/>
<rect x="476.7" y="23.4" width="22.3" height="8.5" fill="url(#hatch)" stroke="#d26a64" stroke-width="1.4"/>
<circle cx="487.85" cy="41.8" r="2.3" fill="#fff" stroke="#000" stroke-width="1.25"/>
<text transform="translate(502.4,17.3) scale(1.0,1)" font-size="10.6" fill="#1f1f1f">HMF</text>
<text transform="translate(525.7,21.8) scale(1.0,1)" font-size="6.3" fill="#1f1f1f" style="stroke-width:0.05px">Yield</text>
<text transform="translate(502.4,31.5) scale(1.0,1)" font-size="10.6" fill="#1f1f1f">HMF</text>
<text transform="translate(525.7,36) scale(1.0,1)" font-size="6.3" fill="#1f1f1f" style="stroke-width:0.05px">Selectivity</text>
<text transform="translate(502.4,45.7) scale(1.0,1)" font-size="10.6" fill="#1f1f1f">C-Balance</text>
<text x="435.5" y="211.6" font-size="10.6" text-anchor="middle" fill="#1f1f1f" >Reaction time (min)</text>
<text transform="translate(292.8,99.45) rotate(-90)" font-size="10.6" text-anchor="middle" fill="#1f1f1f"><tspan font-style="italic">Y</tspan><tspan font-size="6.3" dy="3" style="stroke-width:0.05px">HMF(FRC)</tspan><tspan dy="-3"> and </tspan><tspan font-style="italic">S</tspan><tspan font-size="6.3" dy="3" style="stroke-width:0.05px">HMF(FRC)</tspan><tspan dy="-3"> (mol%)</tspan></text>
<text transform="translate(588.4,100.2) rotate(-90)" font-size="10.45" text-anchor="middle" fill="#1f1f1f">Carbon Balance (%)</text>
<line x1="316.4" y1="396.4" x2="316.4" y2="399.9" stroke="#6a6a6a" stroke-width="1.0"/>
<line x1="316.4" y1="214.75" x2="316.4" y2="218.25" stroke="#6a6a6a" stroke-width="1.0"/>
<text x="316.4" y="409" font-size="8.7" text-anchor="middle" fill="#1f1f1f" >0</text>
<line x1="334.49" y1="396.4" x2="334.49" y2="398.5" stroke="#6a6a6a" stroke-width="1.0"/>
<line x1="334.49" y1="214.75" x2="334.49" y2="216.85" stroke="#6a6a6a" stroke-width="1.0"/>
<line x1="352.58" y1="396.4" x2="352.58" y2="399.9" stroke="#6a6a6a" stroke-width="1.0"/>
<line x1="352.58" y1="214.75" x2="352.58" y2="218.25" stroke="#6a6a6a" stroke-width="1.0"/>
<text x="352.58" y="409" font-size="8.7" text-anchor="middle" fill="#1f1f1f" >5</text>
<line x1="370.68" y1="396.4" x2="370.68" y2="398.5" stroke="#6a6a6a" stroke-width="1.0"/>
<line x1="370.68" y1="214.75" x2="370.68" y2="216.85" stroke="#6a6a6a" stroke-width="1.0"/>
<line x1="388.77" y1="396.4" x2="388.77" y2="399.9" stroke="#6a6a6a" stroke-width="1.0"/>
<line x1="388.77" y1="214.75" x2="388.77" y2="218.25" stroke="#6a6a6a" stroke-width="1.0"/>
<text x="388.77" y="409" font-size="8.7" text-anchor="middle" fill="#1f1f1f" >10</text>
<line x1="406.86" y1="396.4" x2="406.86" y2="398.5" stroke="#6a6a6a" stroke-width="1.0"/>
<line x1="406.86" y1="214.75" x2="406.86" y2="216.85" stroke="#6a6a6a" stroke-width="1.0"/>
<line x1="424.95" y1="396.4" x2="424.95" y2="399.9" stroke="#6a6a6a" stroke-width="1.0"/>
<line x1="424.95" y1="214.75" x2="424.95" y2="218.25" stroke="#6a6a6a" stroke-width="1.0"/>
<text x="424.95" y="409" font-size="8.7" text-anchor="middle" fill="#1f1f1f" >15</text>
<line x1="443.05" y1="396.4" x2="443.05" y2="398.5" stroke="#6a6a6a" stroke-width="1.0"/>
<line x1="443.05" y1="214.75" x2="443.05" y2="216.85" stroke="#6a6a6a" stroke-width="1.0"/>
<line x1="461.14" y1="396.4" x2="461.14" y2="399.9" stroke="#6a6a6a" stroke-width="1.0"/>
<line x1="461.14" y1="214.75" x2="461.14" y2="218.25" stroke="#6a6a6a" stroke-width="1.0"/>
<text x="461.14" y="409" font-size="8.7" text-anchor="middle" fill="#1f1f1f" >20</text>
<line x1="479.23" y1="396.4" x2="479.23" y2="398.5" stroke="#6a6a6a" stroke-width="1.0"/>
<line x1="479.23" y1="214.75" x2="479.23" y2="216.85" stroke="#6a6a6a" stroke-width="1.0"/>
<line x1="497.32" y1="396.4" x2="497.32" y2="399.9" stroke="#6a6a6a" stroke-width="1.0"/>
<line x1="497.32" y1="214.75" x2="497.32" y2="218.25" stroke="#6a6a6a" stroke-width="1.0"/>
<text x="497.32" y="409" font-size="8.7" text-anchor="middle" fill="#1f1f1f" >25</text>
<line x1="515.42" y1="396.4" x2="515.42" y2="398.5" stroke="#6a6a6a" stroke-width="1.0"/>
<line x1="515.42" y1="214.75" x2="515.42" y2="216.85" stroke="#6a6a6a" stroke-width="1.0"/>
<line x1="533.51" y1="396.4" x2="533.51" y2="399.9" stroke="#6a6a6a" stroke-width="1.0"/>
<line x1="533.51" y1="214.75" x2="533.51" y2="218.25" stroke="#6a6a6a" stroke-width="1.0"/>
<text x="533.51" y="409" font-size="8.7" text-anchor="middle" fill="#1f1f1f" >30</text>
<line x1="551.6" y1="396.4" x2="551.6" y2="398.5" stroke="#6a6a6a" stroke-width="1.0"/>
<line x1="551.6" y1="214.75" x2="551.6" y2="216.85" stroke="#6a6a6a" stroke-width="1.0"/>
<line x1="312.9" y1="396.4" x2="316.4" y2="396.4" stroke="#6a6a6a" stroke-width="1.0"/>
<line x1="560.1" y1="396.4" x2="563.6" y2="396.4" stroke="#6a6a6a" stroke-width="1.0"/>
<text x="310.2" y="398.6" font-size="8.7" text-anchor="end" fill="#1f1f1f" >0</text>
<text x="567.6" y="398.6" font-size="8.7" text-anchor="start" fill="#1f1f1f" >0</text>
<line x1="314.3" y1="379.09" x2="316.4" y2="379.09" stroke="#6a6a6a" stroke-width="1.0"/>
<line x1="561.5" y1="379.09" x2="563.6" y2="379.09" stroke="#6a6a6a" stroke-width="1.0"/>
<line x1="312.9" y1="361.79" x2="316.4" y2="361.79" stroke="#6a6a6a" stroke-width="1.0"/>
<line x1="560.1" y1="361.79" x2="563.6" y2="361.79" stroke="#6a6a6a" stroke-width="1.0"/>
<text x="310.2" y="363.99" font-size="8.7" text-anchor="end" fill="#1f1f1f" >20</text>
<text x="567.6" y="363.99" font-size="8.7" text-anchor="start" fill="#1f1f1f" >20</text>
<line x1="314.3" y1="344.48" x2="316.4" y2="344.48" stroke="#6a6a6a" stroke-width="1.0"/>
<line x1="561.5" y1="344.48" x2="563.6" y2="344.48" stroke="#6a6a6a" stroke-width="1.0"/>
<line x1="312.9" y1="327.18" x2="316.4" y2="327.18" stroke="#6a6a6a" stroke-width="1.0"/>
<line x1="560.1" y1="327.18" x2="563.6" y2="327.18" stroke="#6a6a6a" stroke-width="1.0"/>
<text x="310.2" y="329.38" font-size="8.7" text-anchor="end" fill="#1f1f1f" >40</text>
<text x="567.6" y="329.38" font-size="8.7" text-anchor="start" fill="#1f1f1f" >40</text>
<line x1="314.3" y1="309.88" x2="316.4" y2="309.88" stroke="#6a6a6a" stroke-width="1.0"/>
<line x1="561.5" y1="309.88" x2="563.6" y2="309.88" stroke="#6a6a6a" stroke-width="1.0"/>
<line x1="312.9" y1="292.57" x2="316.4" y2="292.57" stroke="#6a6a6a" stroke-width="1.0"/>
<line x1="560.1" y1="292.57" x2="563.6" y2="292.57" stroke="#6a6a6a" stroke-width="1.0"/>
<text x="310.2" y="294.77" font-size="8.7" text-anchor="end" fill="#1f1f1f" >60</text>
<text x="567.6" y="294.77" font-size="8.7" text-anchor="start" fill="#1f1f1f" >60</text>
<line x1="314.3" y1="275.26" x2="316.4" y2="275.26" stroke="#6a6a6a" stroke-width="1.0"/>
<line x1="561.5" y1="275.26" x2="563.6" y2="275.26" stroke="#6a6a6a" stroke-width="1.0"/>
<line x1="312.9" y1="257.96" x2="316.4" y2="257.96" stroke="#6a6a6a" stroke-width="1.0"/>
<line x1="560.1" y1="257.96" x2="563.6" y2="257.96" stroke="#6a6a6a" stroke-width="1.0"/>
<text x="310.2" y="260.16" font-size="8.7" text-anchor="end" fill="#1f1f1f" >80</text>
<text x="567.6" y="260.16" font-size="8.7" text-anchor="start" fill="#1f1f1f" >80</text>
<line x1="314.3" y1="240.65" x2="316.4" y2="240.65" stroke="#6a6a6a" stroke-width="1.0"/>
<line x1="561.5" y1="240.65" x2="563.6" y2="240.65" stroke="#6a6a6a" stroke-width="1.0"/>
<line x1="312.9" y1="223.35" x2="316.4" y2="223.35" stroke="#6a6a6a" stroke-width="1.0"/>
<line x1="560.1" y1="223.35" x2="563.6" y2="223.35" stroke="#6a6a6a" stroke-width="1.0"/>
<text x="310.2" y="225.55" font-size="8.7" text-anchor="end" fill="#1f1f1f" >100</text>
<text x="567.6" y="225.55" font-size="8.7" text-anchor="start" fill="#1f1f1f" >100</text>
<rect x="338" y="325.2" width="14.4" height="70.8" fill="#e11f07" stroke="#bf2210" stroke-width="0.8"/>
<rect x="353.3" y="231.1" width="14.7" height="164.8" fill="url(#hatch)" stroke="#d26a64" stroke-width="1.4"/>
<rect x="374.5" y="266.55" width="13.7" height="129.45" fill="#e11f07" stroke="#bf2210" stroke-width="0.8"/>
<rect x="389.1" y="239.2" width="14.8" height="156.7" fill="url(#hatch)" stroke="#d26a64" stroke-width="1.4"/>
<rect x="446.5" y="233.9" width="14.2" height="162.1" fill="#e11f07" stroke="#bf2210" stroke-width="0.8"/>
<rect x="461.6" y="230.6" width="14.8" height="165.3" fill="url(#hatch)" stroke="#d26a64" stroke-width="1.4"/>
<rect x="518.5" y="232.2" width="14.6" height="163.8" fill="#e11f07" stroke="#bf2210" stroke-width="0.8"/>
<rect x="534" y="231.45" width="14.4" height="164.45" fill="url(#hatch)" stroke="#d26a64" stroke-width="1.4"/>
<circle cx="353" cy="228.1" r="2.3" fill="#fff" stroke="#000" stroke-width="1.25"/>
<circle cx="388.9" cy="232.2" r="2.3" fill="#fff" stroke="#000" stroke-width="1.25"/>
<circle cx="461.3" cy="220.3" r="2.3" fill="#fff" stroke="#000" stroke-width="1.25"/>
<circle cx="533.5" cy="224" r="2.3" fill="#fff" stroke="#000" stroke-width="1.25"/>
<rect x="316.4" y="214.75" width="247.2" height="181.65" fill="none" stroke="#6a6a6a" stroke-width="1.4"/>
<rect x="471.4" y="349.6" width="85" height="44.2" fill="#fff" stroke="#5a5a5a" stroke-width="1"/>
<rect x="474.9" y="353.5" width="22.5" height="8.2" fill="#e11f07" stroke="#bf2210" stroke-width="0.8"/>
<rect x="475" y="367.4" width="22.3" height="8.5" fill="url(#hatch)" stroke="#d26a64" stroke-width="1.4"/>
<circle cx="486.15" cy="385.8" r="2.3" fill="#fff" stroke="#000" stroke-width="1.25"/>
<text transform="translate(500.7,361.3) scale(1.0,1)" font-size="10.6" fill="#1f1f1f">HMF</text>
<text transform="translate(524,365.8) scale(1.0,1)" font-size="6.3" fill="#1f1f1f" style="stroke-width:0.05px">Yield</text>
<text transform="translate(500.7,375.5) scale(1.0,1)" font-size="10.6" fill="#1f1f1f">HMF</text>
<text transform="translate(524,380) scale(1.0,1)" font-size="6.3" fill="#1f1f1f" style="stroke-width:0.05px">Selectivity</text>
<text transform="translate(500.7,389.7) scale(1.0,1)" font-size="10.6" fill="#1f1f1f">C-Balance</text>
<text x="440.3" y="426.4" font-size="10.6" text-anchor="middle" fill="#1f1f1f" >Reaction time (min)</text>
<text transform="translate(292,313.5) rotate(-90)" font-size="10.6" text-anchor="middle" fill="#1f1f1f"><tspan font-style="italic">Y</tspan><tspan font-size="6.3" dy="3" style="stroke-width:0.05px">HMF(FRC)</tspan><tspan dy="-3"> and </tspan><tspan font-style="italic">S</tspan><tspan font-size="6.3" dy="3" style="stroke-width:0.05px">HMF(FRC)</tspan><tspan dy="-3"> (mol%)</tspan></text>
<text transform="translate(588.6,313.2) rotate(-90)" font-size="10.45" text-anchor="middle" fill="#1f1f1f">Carbon Balance (%)</text>
<line x1="316.85" y1="612.35" x2="316.85" y2="615.85" stroke="#6a6a6a" stroke-width="1.0"/>
<line x1="316.85" y1="431.6" x2="316.85" y2="435.1" stroke="#6a6a6a" stroke-width="1.0"/>
<text x="316.85" y="624.95" font-size="8.7" text-anchor="middle" fill="#1f1f1f" >0</text>
<line x1="334.83" y1="612.35" x2="334.83" y2="614.45" stroke="#6a6a6a" stroke-width="1.0"/>
<line x1="334.83" y1="431.6" x2="334.83" y2="433.7" stroke="#6a6a6a" stroke-width="1.0"/>
<line x1="352.8" y1="612.35" x2="352.8" y2="615.85" stroke="#6a6a6a" stroke-width="1.0"/>
<line x1="352.8" y1="431.6" x2="352.8" y2="435.1" stroke="#6a6a6a" stroke-width="1.0"/>
<text x="352.8" y="624.95" font-size="8.7" text-anchor="middle" fill="#1f1f1f" >5</text>
<line x1="370.78" y1="612.35" x2="370.78" y2="614.45" stroke="#6a6a6a" stroke-width="1.0"/>
<line x1="370.78" y1="431.6" x2="370.78" y2="433.7" stroke="#6a6a6a" stroke-width="1.0"/>
<line x1="388.75" y1="612.35" x2="388.75" y2="615.85" stroke="#6a6a6a" stroke-width="1.0"/>
<line x1="388.75" y1="431.6" x2="388.75" y2="435.1" stroke="#6a6a6a" stroke-width="1.0"/>
<text x="388.75" y="624.95" font-size="8.7" text-anchor="middle" fill="#1f1f1f" >10</text>
<line x1="406.73" y1="612.35" x2="406.73" y2="614.45" stroke="#6a6a6a" stroke-width="1.0"/>
<line x1="406.73" y1="431.6" x2="406.73" y2="433.7" stroke="#6a6a6a" stroke-width="1.0"/>
<line x1="424.7" y1="612.35" x2="424.7" y2="615.85" stroke="#6a6a6a" stroke-width="1.0"/>
<line x1="424.7" y1="431.6" x2="424.7" y2="435.1" stroke="#6a6a6a" stroke-width="1.0"/>
<text x="424.7" y="624.95" font-size="8.7" text-anchor="middle" fill="#1f1f1f" >15</text>
<line x1="442.68" y1="612.35" x2="442.68" y2="614.45" stroke="#6a6a6a" stroke-width="1.0"/>
<line x1="442.68" y1="431.6" x2="442.68" y2="433.7" stroke="#6a6a6a" stroke-width="1.0"/>
<line x1="460.65" y1="612.35" x2="460.65" y2="615.85" stroke="#6a6a6a" stroke-width="1.0"/>
<line x1="460.65" y1="431.6" x2="460.65" y2="435.1" stroke="#6a6a6a" stroke-width="1.0"/>
<text x="460.65" y="624.95" font-size="8.7" text-anchor="middle" fill="#1f1f1f" >20</text>
<line x1="478.62" y1="612.35" x2="478.62" y2="614.45" stroke="#6a6a6a" stroke-width="1.0"/>
<line x1="478.62" y1="431.6" x2="478.62" y2="433.7" stroke="#6a6a6a" stroke-width="1.0"/>
<line x1="496.6" y1="612.35" x2="496.6" y2="615.85" stroke="#6a6a6a" stroke-width="1.0"/>
<line x1="496.6" y1="431.6" x2="496.6" y2="435.1" stroke="#6a6a6a" stroke-width="1.0"/>
<text x="496.6" y="624.95" font-size="8.7" text-anchor="middle" fill="#1f1f1f" >25</text>
<line x1="514.58" y1="612.35" x2="514.58" y2="614.45" stroke="#6a6a6a" stroke-width="1.0"/>
<line x1="514.58" y1="431.6" x2="514.58" y2="433.7" stroke="#6a6a6a" stroke-width="1.0"/>
<line x1="532.55" y1="612.35" x2="532.55" y2="615.85" stroke="#6a6a6a" stroke-width="1.0"/>
<line x1="532.55" y1="431.6" x2="532.55" y2="435.1" stroke="#6a6a6a" stroke-width="1.0"/>
<text x="532.55" y="624.95" font-size="8.7" text-anchor="middle" fill="#1f1f1f" >30</text>
<line x1="550.53" y1="612.35" x2="550.53" y2="614.45" stroke="#6a6a6a" stroke-width="1.0"/>
<line x1="550.53" y1="431.6" x2="550.53" y2="433.7" stroke="#6a6a6a" stroke-width="1.0"/>
<line x1="313.35" y1="612.35" x2="316.85" y2="612.35" stroke="#6a6a6a" stroke-width="1.0"/>
<line x1="559.2" y1="612.35" x2="562.7" y2="612.35" stroke="#6a6a6a" stroke-width="1.0"/>
<text x="310.65" y="614.55" font-size="8.7" text-anchor="end" fill="#1f1f1f" >0</text>
<text x="566.7" y="614.55" font-size="8.7" text-anchor="start" fill="#1f1f1f" >0</text>
<line x1="314.75" y1="595.17" x2="316.85" y2="595.17" stroke="#6a6a6a" stroke-width="1.0"/>
<line x1="560.6" y1="595.17" x2="562.7" y2="595.17" stroke="#6a6a6a" stroke-width="1.0"/>
<line x1="313.35" y1="577.98" x2="316.85" y2="577.98" stroke="#6a6a6a" stroke-width="1.0"/>
<line x1="559.2" y1="577.98" x2="562.7" y2="577.98" stroke="#6a6a6a" stroke-width="1.0"/>
<text x="310.65" y="580.18" font-size="8.7" text-anchor="end" fill="#1f1f1f" >20</text>
<text x="566.7" y="580.18" font-size="8.7" text-anchor="start" fill="#1f1f1f" >20</text>
<line x1="314.75" y1="560.8" x2="316.85" y2="560.8" stroke="#6a6a6a" stroke-width="1.0"/>
<line x1="560.6" y1="560.8" x2="562.7" y2="560.8" stroke="#6a6a6a" stroke-width="1.0"/>
<line x1="313.35" y1="543.61" x2="316.85" y2="543.61" stroke="#6a6a6a" stroke-width="1.0"/>
<line x1="559.2" y1="543.61" x2="562.7" y2="543.61" stroke="#6a6a6a" stroke-width="1.0"/>
<text x="310.65" y="545.81" font-size="8.7" text-anchor="end" fill="#1f1f1f" >40</text>
<text x="566.7" y="545.81" font-size="8.7" text-anchor="start" fill="#1f1f1f" >40</text>
<line x1="314.75" y1="526.43" x2="316.85" y2="526.43" stroke="#6a6a6a" stroke-width="1.0"/>
<line x1="560.6" y1="526.43" x2="562.7" y2="526.43" stroke="#6a6a6a" stroke-width="1.0"/>
<line x1="313.35" y1="509.24" x2="316.85" y2="509.24" stroke="#6a6a6a" stroke-width="1.0"/>
<line x1="559.2" y1="509.24" x2="562.7" y2="509.24" stroke="#6a6a6a" stroke-width="1.0"/>
<text x="310.65" y="511.44" font-size="8.7" text-anchor="end" fill="#1f1f1f" >60</text>
<text x="566.7" y="511.44" font-size="8.7" text-anchor="start" fill="#1f1f1f" >60</text>
<line x1="314.75" y1="492.06" x2="316.85" y2="492.06" stroke="#6a6a6a" stroke-width="1.0"/>
<line x1="560.6" y1="492.06" x2="562.7" y2="492.06" stroke="#6a6a6a" stroke-width="1.0"/>
<line x1="313.35" y1="474.87" x2="316.85" y2="474.87" stroke="#6a6a6a" stroke-width="1.0"/>
<line x1="559.2" y1="474.87" x2="562.7" y2="474.87" stroke="#6a6a6a" stroke-width="1.0"/>
<text x="310.65" y="477.07" font-size="8.7" text-anchor="end" fill="#1f1f1f" >80</text>
<text x="566.7" y="477.07" font-size="8.7" text-anchor="start" fill="#1f1f1f" >80</text>
<line x1="314.75" y1="457.69" x2="316.85" y2="457.69" stroke="#6a6a6a" stroke-width="1.0"/>
<line x1="560.6" y1="457.69" x2="562.7" y2="457.69" stroke="#6a6a6a" stroke-width="1.0"/>
<line x1="313.35" y1="440.5" x2="316.85" y2="440.5" stroke="#6a6a6a" stroke-width="1.0"/>
<line x1="559.2" y1="440.5" x2="562.7" y2="440.5" stroke="#6a6a6a" stroke-width="1.0"/>
<text x="310.65" y="442.7" font-size="8.7" text-anchor="end" fill="#1f1f1f" >100</text>
<text x="566.7" y="442.7" font-size="8.7" text-anchor="start" fill="#1f1f1f" >100</text>
<rect x="338.4" y="520.4" width="14" height="91.55" fill="#e11f07" stroke="#bf2210" stroke-width="0.8"/>
<rect x="353.3" y="486" width="14.5" height="125.85" fill="url(#hatch)" stroke="#d26a64" stroke-width="1.4"/>
<rect x="374.6" y="459.2" width="13.6" height="152.75" fill="#e11f07" stroke="#bf2210" stroke-width="0.8"/>
<rect x="389.1" y="439.9" width="14.6" height="171.95" fill="url(#hatch)" stroke="#d26a64" stroke-width="1.4"/>
<rect x="446.5" y="463.9" width="13.7" height="148.05" fill="#e11f07" stroke="#bf2210" stroke-width="0.8"/>
<rect x="461.1" y="463.6" width="14.3" height="148.25" fill="url(#hatch)" stroke="#d26a64" stroke-width="1.4"/>
<rect x="518.15" y="459.9" width="14.05" height="152.05" fill="#e11f07" stroke="#bf2210" stroke-width="0.8"/>
<rect x="533.1" y="459.8" width="13.9" height="152.05" fill="url(#hatch)" stroke="#d26a64" stroke-width="1.4"/>
<circle cx="353" cy="472.4" r="2.3" fill="#fff" stroke="#000" stroke-width="1.25"/>
<circle cx="388.6" cy="447.9" r="2.3" fill="#fff" stroke="#000" stroke-width="1.25"/>
<circle cx="460.8" cy="472.4" r="2.3" fill="#fff" stroke="#000" stroke-width="1.25"/>
<circle cx="532.6" cy="470.8" r="2.3" fill="#fff" stroke="#000" stroke-width="1.25"/>
<rect x="316.85" y="431.6" width="245.85" height="180.75" fill="none" stroke="#6a6a6a" stroke-width="1.4"/>
<rect x="471.3" y="565" width="84.4" height="45" fill="#fff" stroke="#5a5a5a" stroke-width="1"/>
<rect x="474.8" y="568.9" width="22.5" height="8.2" fill="#e11f07" stroke="#bf2210" stroke-width="0.8"/>
<rect x="474.9" y="582.8" width="22.3" height="8.5" fill="url(#hatch)" stroke="#d26a64" stroke-width="1.4"/>
<circle cx="486.05" cy="601.2" r="2.3" fill="#fff" stroke="#000" stroke-width="1.25"/>
<text transform="translate(500.6,576.7) scale(1.0,1)" font-size="10.6" fill="#1f1f1f">HMF</text>
<text transform="translate(523.9,581.2) scale(1.0,1)" font-size="6.3" fill="#1f1f1f" style="stroke-width:0.05px">Yield</text>
<text transform="translate(500.6,590.9) scale(1.0,1)" font-size="10.6" fill="#1f1f1f">HMF</text>
<text transform="translate(523.9,595.4) scale(1.0,1)" font-size="6.3" fill="#1f1f1f" style="stroke-width:0.05px">Selectivity</text>
<text transform="translate(500.6,605.1) scale(1.0,1)" font-size="10.6" fill="#1f1f1f">C-Balance</text>
<text x="440.1" y="640.8" font-size="10.6" text-anchor="middle" fill="#1f1f1f" >Reaction time (min)</text>
<text transform="translate(293.4,529.9) rotate(-90)" font-size="10.6" text-anchor="middle" fill="#1f1f1f"><tspan font-style="italic">Y</tspan><tspan font-size="6.3" dy="3" style="stroke-width:0.05px">HMF(FRC)</tspan><tspan dy="-3"> and </tspan><tspan font-style="italic">S</tspan><tspan font-size="6.3" dy="3" style="stroke-width:0.05px">HMF(FRC)</tspan><tspan dy="-3"> (mol%)</tspan></text>
<text transform="translate(587.7,529.3) rotate(-90)" font-size="10.45" text-anchor="middle" fill="#1f1f1f">Carbon Balance (%)</text>
</svg></body></html>
